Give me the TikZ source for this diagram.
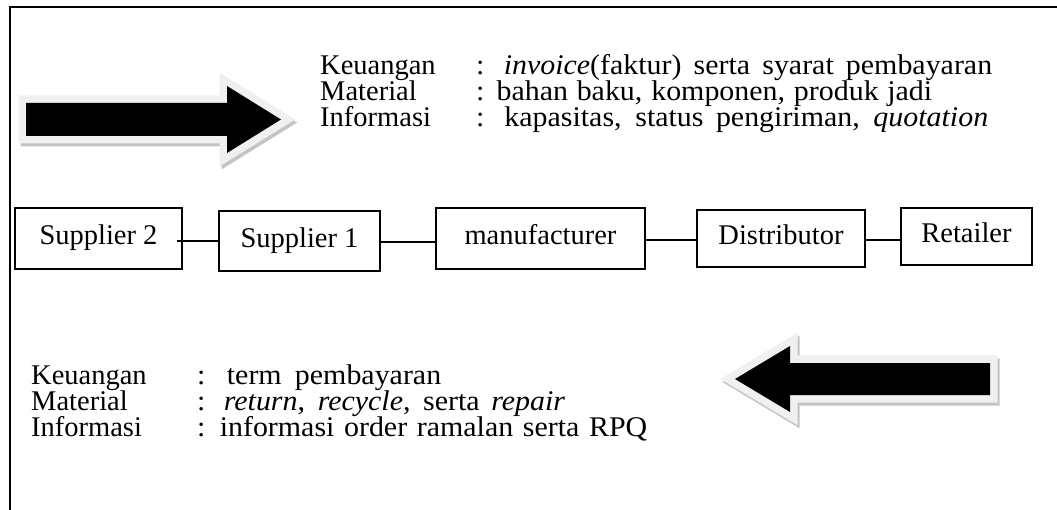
\documentclass[tikz,border=0pt]{standalone}
\usepackage{fontspec}
\setmainfont{Liberation Serif}
\newfontfamily\widefont[FakeStretch=1.05]{Liberation Serif}
\definecolor{halo}{HTML}{F0F0F0}
\definecolor{shade}{HTML}{C4C4C4}
\newcommand{\spreadline}[2]{\makebox[#1][s]{\widefont #2}}
\begin{document}
\begin{tikzpicture}[x=1pt,y=-1pt,
  txt/.style={font=\fontsize{28.5pt}{26pt}\selectfont, inner sep=0pt, anchor=base west, text height=18pt, text depth=4pt},
  box/.style={draw, line width=1.3pt, font=\fontsize{28.5pt}{26pt}\selectfont, inner sep=0pt, text height=19pt, text depth=6pt},
  link/.style={line width=1.3pt},
  frame/.style={line width=1.5pt},
  shadowstroke/.style={draw=shade, fill=shade, line width=15pt, line join=miter, shift={(2,3)}},
  halostroke/.style={draw=halo, fill=halo, line width=15pt, line join=miter},
  arrowfill/.style={fill=black}]
\useasboundingbox (0,0) rectangle (1057,510);

% frame
\draw[frame] (10,510) -- (10,7) -- (1057,7);

% top arrow (to the right)
\path[shadowstroke] (26,103) -- (227,103) -- (227,86) -- (281,119.5) -- (227,153) -- (227,136) -- (26,136) -- cycle;
\path[halostroke] (26,103) -- (227,103) -- (227,86) -- (281,119.5) -- (227,153) -- (227,136) -- (26,136) -- cycle;
\path[arrowfill] (26,103) -- (227,103) -- (227,86) -- (281,119.5) -- (227,153) -- (227,136) -- (26,136) -- cycle;

% bottom arrow (to the left)
\path[shadowstroke] (990,363) -- (790,363) -- (790,346) -- (735,379) -- (790,412) -- (790,395) -- (990,395) -- cycle;
\path[halostroke] (990,363) -- (790,363) -- (790,346) -- (735,379) -- (790,412) -- (790,395) -- (990,395) -- cycle;
\path[arrowfill] (990,363) -- (790,363) -- (790,346) -- (735,379) -- (790,412) -- (790,395) -- (990,395) -- cycle;

% top text
\node[txt] (tk) at (320,75) {Keuangan};
\node[txt] (tm) at (320,101) {Material};
\node[txt] (ti) at (320,127) {Informasi};
\node[txt] (tkv) at (476,75) {\spreadline{516pt}{: \textit{invoice}(faktur) serta syarat pembayaran}};
\node[txt] (tmv) at (476,101) {\spreadline{456pt}{: bahan baku, komponen, produk jadi}};
\node[txt] (tiv) at (476,127) {\spreadline{512pt}{: kapasitas, status pengiriman, \textit{quotation}}};

% boxes
\node[box, minimum width=167pt, minimum height=61pt] (s2) at (98.5,238.5) {Supplier 2};
\node[box, minimum width=161pt, minimum height=60pt] (s1) at (299.5,241) {Supplier 1};
\node[box, minimum width=209pt, minimum height=61pt] (mf) at (540.5,238.5) {manufacturer};
\node[box, minimum width=168pt, minimum height=57pt] (ds) at (781,238.5) {Distributor};
\node[box, minimum width=131pt, minimum height=57pt] (rt) at (966.5,236.5) {Retailer};

\draw[link] ([xshift=-6pt,yshift=-2.5pt]s2.east) -- ([yshift=-2.5pt]s2.east -| s1.west);
\draw[link] ([yshift=-1pt]s1.east) -- ([yshift=-1pt]s1.east -| mf.west);
\draw[link] ([yshift=-1.5pt]mf.east) -- ([yshift=-1.5pt]mf.east -| ds.west);
\draw[link] ([yshift=-1.5pt]ds.east) -- ([yshift=-1.5pt]ds.east -| rt.west);

% bottom text
\node[txt] (bk) at (31,384) {Keuangan};
\node[txt] (bm) at (31,410) {Material};
\node[txt] (bi) at (31,436) {Informasi};
\node[txt] (bkv) at (197,384) {\spreadline{244pt}{: term pembayaran}};
\node[txt] (bmv) at (197,410) {\spreadline{368pt}{: \textit{return}, \textit{recycle}, serta \textit{repair}}};
\node[txt] (biv) at (197,436) {\spreadline{450pt}{: informasi order ramalan serta RPQ}};
\end{tikzpicture}
\end{document}
